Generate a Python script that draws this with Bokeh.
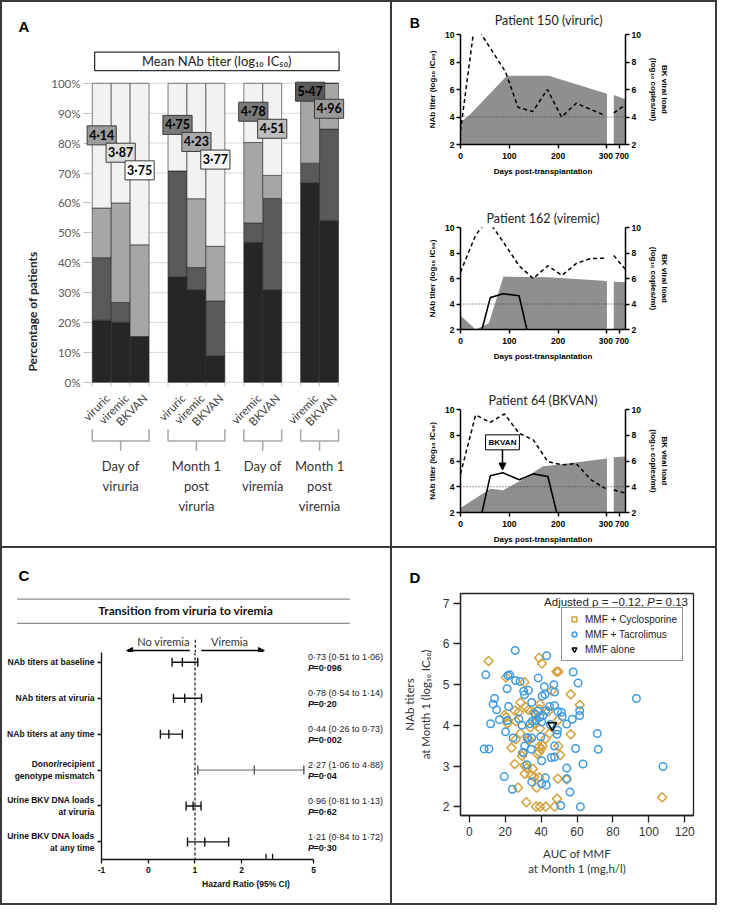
import math
from bokeh.plotting import figure
from bokeh.models import (ColumnDataSource, Range1d, FixedTicker, LinearAxis, Label, Arrow,
                          NormalHead, Span, Legend, LegendItem, PrintfTickFormatter)
from bokeh.layouts import row, column
from bokeh.core.properties import value
from bokeh.embed import file_html
from bokeh.resources import INLINE

# ====================== DATA ======================
# ---- Panel A : stacked percentages (bottom -> top) ----
a_bar_names = ["viruric", "viremic", "BKVAN", "viruric", "viremic", "BKVAN",
               "viremic", "BKVAN", "viremic", "BKVAN"]
a_groups = ["Day of\nviruria", "Month 1\npost\nviruria", "Day of\nviremia", "Month 1\npost\nviremia"]
a_group_sizes = [3, 3, 2, 2]
a_seg1 = [20.8, 20.1, 15.3, 35.3, 30.9, 8.9, 46.8, 30.9, 66.7, 54.0]
a_seg2 = [20.9, 6.6, 0.0, 35.4, 7.5, 18.3, 6.5, 30.6, 6.6, 30.7]
a_seg3 = [16.6, 33.3, 30.7, 0.0, 23.0, 18.3, 26.9, 7.7, 26.7, 15.3]
a_seg4 = [41.7, 40.0, 54.0, 29.3, 38.6, 54.5, 19.8, 30.8, 0.0, 0.0]
a_titer = [4.14, 3.87, 3.75, 4.75, 4.23, 3.77, 4.78, 4.51, 5.47, 4.96]
a_label_ypos = [82.6, 76.8, 70.9, 86.1, 80.4, 74.5, 90.5, 84.8, 97.2, 91.5]
a_label_fill = ["#9a9a9a", "#dedede", "#ffffff", "#7a7a7a", "#a8a8a8", "#f8f8f8",
                "#7a7a7a", "#bdbdbd", "#5a5a5a", "#9a9a9a"]
a_pct_ticks = [0, 10, 20, 30, 40, 50, 60, 70, 80, 90, 100]

# ---- Panel B : patient time courses ----
b_titles = ["Patient 150 (viruric)", "Patient 162 (viremic)", "Patient 64 (BKVAN)"]
b_area_days = [[0, 20, 95, 181, 300], [0, 31, 58, 88, 180, 300], [0, 61, 87, 120, 169, 199, 300]]
b_area_vals = [[3.6, 4.2, 7.0, 7.0, 5.7], [3.1, 2.0, 2.5, 6.15, 6.1, 5.8],
               [2.35, 3.85, 3.73, 4.4, 5.6, 5.7, 6.2]]
b_late_days = [650, 750]
b_area_late = [[5.6, 5.3], [5.75, 5.7], [6.3, 6.35]]
b_dash_days = [[0, 26, 35, 43, 92, 118, 148, 178, 207, 237, 297],
               [0, 31, 41, 54, 67, 94, 120, 149, 179, 208, 238, 265, 298],
               [0, 31, 61, 90, 120, 149, 179, 208, 237, 267, 297]]
b_dash_vals = [[3.0, 10.0, 10.6, 10.0, 7.3, 4.7, 4.4, 6.0, 4.0, 5.0, 4.1],
               [6.5, 9.4, 9.9, 10.4, 10.0, 8.5, 7.0, 6.0, 7.0, 6.25, 7.2, 7.55, 7.6],
               [5.0, 9.58, 9.0, 9.65, 8.15, 7.64, 5.95, 5.7, 5.8, 4.55, 3.85]]
b_dash_late = [[4.3, 4.9], [7.8, 6.7], [3.75, 3.5]]
b_solid_days = [[], [44, 61, 87, 120, 136], [44, 61, 87, 120, 149, 179, 197]]
b_solid_vals = [[], [2.0, 4.5, 4.8, 4.65, 2.0], [2.0, 4.85, 5.08, 4.55, 5.0, 4.8, 2.0]]
b_threshold = 4
b_bkvan_day = 86

# ---- Panel C : forest plot ----
c_labels = ["NAb titers at baseline", "NAb titers at viruria", "NAb titers at any time",
            "Donor/recipient\ngenotype mismatch", "Urine BKV DNA loads\nat viruria",
            "Urine BKV DNA loads\nat any time"]
c_hr = [0.73, 0.78, 0.44, 2.27, 0.96, 1.21]
c_lo = [0.51, 0.54, 0.26, 1.06, 0.81, 0.84]
c_hi = [1.06, 1.14, 0.73, 4.88, 1.13, 1.72]
c_p = ["0·096", "0·20", "0·002", "0·04", "0·62", "0·30"]
c_xticks = [-1, 0, 1, 2, 5]

# ---- Panel D : scatter ----
d_cyc_x = [10.8, 20.4, 30.8, 38.9, 40.5, 48.6, 49.6, 46.0, 56.5, 61.5, 28.5, 19.6, 20.5, 21.3,
           25.4, 27.6, 33.0, 35.7, 37.2, 39.4, 38.9, 43.9, 49.3, 56.5, 44.7, 28.5, 25.9, 23.5,
           32.6, 33.5, 39.4, 42.4, 39.0, 40.0, 40.8, 38.8, 29.8, 29.4, 49.6, 50.7, 25.3, 30.9,
           35.4, 30.9, 34.5, 36.2, 39.0, 27.2, 37.5, 49.3, 54.3, 31.8, 48.9, 37.2, 39.4, 42.6,
           47.5, 107.4, 34.0, 36.5, 31.5, 37.8, 32.0, 26.0]
d_cyc_y = [5.58, 5.18, 5.06, 5.66, 5.52, 5.32, 5.32, 4.85, 4.76, 4.50, 4.56, 4.25, 4.20, 4.05,
           4.36, 4.32, 4.38, 4.32, 4.26, 4.52, 4.40, 4.34, 4.12, 3.78, 3.80, 3.80, 3.66, 3.45,
           3.66, 3.64, 3.92, 3.67, 3.48, 3.42, 3.50, 3.34, 3.33, 3.25, 3.49, 3.27, 3.05, 3.01,
           2.93, 2.81, 2.77, 2.73, 2.72, 2.47, 2.47, 2.69, 2.67, 2.11, 2.20, 2.00, 2.00, 2.00,
           2.00, 2.23, 3.95, 4.05, 4.45, 3.30, 2.95, 4.10]
d_tac_x = [9.2, 14.1, 13.3, 15.3, 11.9, 16.8, 8.3, 11.0, 19.5, 24.0, 20.2, 21.1, 21.5, 22.5,
           21.9, 21.2, 24.4, 25.8, 25.6, 28.3, 27.6, 30.3, 30.8, 33.0, 29.4, 30.0, 30.9, 32.1,
           34.5, 33.9, 34.8, 36.6, 37.2, 38.1, 38.4, 43.1, 41.8, 40.6, 42.2, 39.4, 40.3, 41.1,
           44.7, 47.5, 47.1, 47.5, 49.3, 51.4, 51.8, 54.3, 57.4, 57.9, 60.6, 61.5, 61.5, 49.1,
           48.9, 47.5, 45.7, 47.5, 39.9, 34.8, 40.3, 42.4, 40.3, 42.9, 34.8, 59.2, 54.3, 54.3,
           56.1, 63.3, 51.0, 61.9, 71.3, 71.8, 93.1, 107.9, 45.1, 42.6, 35.2, 32.4]
d_tac_y = [5.24, 4.66, 4.52, 4.38, 4.04, 4.14, 3.42, 3.42, 2.74, 2.43, 3.84, 4.90, 5.22, 5.24,
           4.46, 4.12, 3.69, 5.10, 5.84, 5.08, 4.16, 4.84, 4.75, 4.86, 4.00, 3.33, 3.49, 3.03,
           3.41, 4.04, 4.56, 4.28, 4.12, 4.35, 5.16, 5.71, 4.95, 4.72, 4.76, 4.20, 4.08, 4.24,
           4.46, 4.48, 5.00, 4.82, 4.34, 4.32, 4.22, 4.03, 4.15, 5.31, 5.04, 4.36, 4.24, 3.88,
           3.78, 3.49, 3.21, 3.22, 3.72, 3.69, 3.13, 2.71, 2.57, 2.53, 2.61, 3.43, 2.95, 2.69,
           2.36, 3.05, 2.03, 2.00, 3.80, 3.41, 4.66, 2.99, 4.02, 4.36, 4.10, 3.70]
d_alone_x = [46.2]
d_alone_y = [4.00]
d_rho = -0.12
d_pval = 0.13
d_xticks = [0, 20, 40, 60, 80, 100, 120]
d_yticks = [2, 3, 4, 5, 6, 7]

# ====================== LAYOUT CONSTANTS ======================
GAP = 2
W_L, W_R = 388, 323
H_T, H_B = 544, 355
SXL, SXR = W_L / 400.0, W_R / 333.0
SYT, SYB = H_T / 557.0, H_B / 364.0
CAL = "Lato"
ARI = "Liberation Sans"
NAR = "Liberation Sans Narrow, Liberation Sans"
WHITE_BG = {"background-color": "white"}


def base_fig(w, h, xr, yr, l, r, t, b, title=None, **kw):
    p = figure(width=w, height=h, x_range=xr, y_range=yr, output_backend="svg",
               toolbar_location=None, title=title, min_border_left=l, min_border_right=r,
               min_border_top=t, min_border_bottom=b, styles=WHITE_BG, **kw)
    p.frame_align = False
    p.outline_line_color = None
    p.background_fill_color = "white"
    p.border_fill_color = "white"
    return p


def strip_fig(w, h, xr, yr):
    p = base_fig(w, h, xr, yr, 0, 0, 0, 0, x_axis_type=None, y_axis_type=None)
    p.xgrid.visible = False
    p.ygrid.visible = False
    return p


def letter(p, x, y, t, size="15px"):
    p.text(x=[x], y=[y], text=[t], text_font=value(ARI), text_font_style="bold",
           text_font_size=size, text_align="center", text_baseline="middle", text_color="black")


# ====================== PANEL A ======================
def a_pct(py):
    return (389.0 - py) / 3.06


def a_slot(px):
    return (px - 93.0) / 19.5 - 0.5


a_x, a_gc, a_ge = [], [], []
pos = 0
for gs in a_group_sizes:
    xs = list(range(pos, pos + gs))
    a_x += xs
    a_gc.append((xs[0] + xs[-1]) / 2.0)
    a_ge.append((xs[0] - 0.5, xs[-1] + 0.5))
    pos += gs + 1

A_SPLIT = 76
hA_top = round(A_SPLIT * SYT)
sA = strip_fig(W_L, hA_top, Range1d(a_slot(0), a_slot(400)), Range1d(a_pct(A_SPLIT), a_pct(0)))
letter(sA, a_slot(22), a_pct(25), "A")
sA.quad(left=[a_slot(95)], right=[a_slot(347)], top=[a_pct(51)], bottom=[a_pct(70)],
        fill_color="white", line_color="#333333", line_width=1.3)
sA.text(x=[(a_slot(95) + a_slot(347)) / 2], y=[a_pct(60.5)], text=["Mean NAb titer (log₁₀ IC₅₀)"],
        text_align="center", text_baseline="middle", text_font=value(CAL),
        text_font_size="13px", text_color="#222222")

pA = base_fig(W_L, H_T - hA_top, Range1d(a_slot(84), a_slot(400)),
              Range1d(a_pct(557), a_pct(A_SPLIT)), round(84 * SXL), 0, 0, 0, x_axis_type=None)
pA.xgrid.visible = False
pA.ygrid.visible = False
yax = pA.yaxis[0]
yax.ticker = FixedTicker(ticks=a_pct_ticks)
yax.formatter = PrintfTickFormatter(format="%d%%")
yax.axis_line_color = None
yax.major_tick_line_color = "#bfbfbf"
yax.major_tick_out = 0
yax.major_tick_in = 7
yax.minor_tick_line_color = None
yax.major_label_text_font = CAL
yax.major_label_text_font_size = "11.5px"
yax.major_label_text_color = "#595959"
yax.major_label_standoff = 3
yax.axis_label = "Percentage of patients"
yax.axis_label_text_font = CAL
yax.axis_label_text_font_style = "bold"
yax.axis_label_text_font_size = "12px"
yax.axis_label_text_color = "#222222"
yax.axis_label_standoff = 8

pA.segment(x0=[a_slot(91)] * len(a_pct_ticks), y0=a_pct_ticks,
           x1=[a_slot(346)] * len(a_pct_ticks), y1=a_pct_ticks,
           line_color="#d9d9d9", line_width=1)

srcA = ColumnDataSource(dict(x=a_x, s1=a_seg1, s2=a_seg2, s3=a_seg3, s4=a_seg4))
pA.vbar_stack(["s1", "s2", "s3", "s4"], x="x", width=1.0, source=srcA,
              fill_color=["#262626", "#595959", "#a6a6a6", "#f2f2f2"],
              line_color="#2a2a2a", line_width=0.6)

edges = sorted(set([xi - 0.5 for xi in a_x] + [xi + 0.5 for xi in a_x]))
pA.segment(x0=edges, y0=[0] * len(edges), x1=edges, y1=[a_pct(393)] * len(edges),
           line_color="#bfbfbf", line_width=1)

for xi, t, ly, fc in zip(a_x, a_titer, a_label_ypos, a_label_fill):
    pA.add_layout(Label(x=xi, y=ly, text=f"{t:.2f}".replace(".", "·"), text_align="center",
                        text_baseline="middle", text_font=CAL, text_font_style="bold",
                        text_font_size="12.5px", text_color="black",
                        background_fill_color=fc, border_line_color="#3a3a3a",
                        border_line_width=1, padding=2))

pA.text(x=[xi + 0.3 for xi in a_x], y=[a_pct(403)] * len(a_x), text=a_bar_names,
        angle=math.pi / 4, text_align="right", text_baseline="middle",
        text_font=value(CAL), text_font_size="11.5px", text_color="#404040")

br_xs, br_ys = [], []
for (l, r), c in zip(a_ge, a_gc):
    br_xs.append([l, l, r, r])
    br_ys.append([a_pct(437), a_pct(449), a_pct(449), a_pct(437)])
    br_xs.append([c, c])
    br_ys.append([a_pct(449), a_pct(459)])
pA.multi_line(br_xs, br_ys, line_color="#a6a6a6", line_width=1.5)
pA.text(x=a_gc, y=[a_pct(466)] * len(a_gc), text=a_groups, text_align="center",
        text_baseline="top", text_font=value(CAL), text_font_size="13px",
        text_color="#333333", text_line_height=1.25)

colA = column(sA, pA, spacing=0)


# ====================== PANEL B ======================
def bx(d):
    return d if d <= 300 else 314 + (d - 650) * 0.24


def style_b_axis(ax, ticks):
    ax.ticker = FixedTicker(ticks=ticks)
    ax.axis_line_color = "black"
    ax.axis_line_width = 1.5
    ax.major_tick_line_color = "black"
    ax.major_tick_line_width = 1.5
    ax.major_tick_out = 4
    ax.major_tick_in = 0
    ax.minor_tick_line_color = None
    ax.major_label_text_font = ARI
    ax.major_label_text_font_style = "bold"
    ax.major_label_text_font_size = "8.5px"
    ax.major_label_text_color = "black"
    ax.major_label_standoff = 2
    ax.axis_label_text_font = ARI
    ax.axis_label_text_font_style = "bold"
    ax.axis_label_text_font_size = "8px"
    ax.axis_label_text_color = "black"
    ax.axis_label_standoff = 5


B_SPLIT = 27.5
hB_top = round(B_SPLIT * SYT)
sB = strip_fig(W_R, hB_top, Range1d(0, W_R), Range1d(hB_top, 0))
letter(sB, 23 * SXR, 20, "B", size="14px")
sB.text(x=[(561 - 400) * SXR], y=[18 * SYT], text=[b_titles[0]], text_align="center",
        text_baseline="middle", text_font=value(CAL), text_font_size="12.5px",
        text_color="#222222")

b_ref_regions = [(B_SPLIT, 180), (180, 370), (370, 557)]
b_ref_frames = [(33, 146), (230, 344), (417, 532)]
b_figs = [sB]
tick700 = int(round(bx(700)))
for k in range(3):
    y0 = round(b_ref_regions[k][0] * SYT)
    y1 = H_T if k == 2 else round(b_ref_regions[k][1] * SYT)
    h = y1 - y0
    top = round(b_ref_frames[k][0] * SYT) - y0
    bot = y1 - round(b_ref_frames[k][1] * SYT)
    p = base_fig(W_R, h, Range1d(0, 338), Range1d(2, 10), round(70 * SXR),
                 W_R - round(240 * SXR), top, bot, title=(b_titles[k] if k > 0 else None))
    p.xgrid.visible = False
    p.ygrid.visible = False
    if k > 0:
        p.title.align = "center"
        p.title.text_font = CAL
        p.title.text_font_style = "normal"
        p.title.text_font_size = "12.5px"
        p.title.text_color = "#222222"
        p.title.standoff = 4
        p.title.offset = 5

    p.varea(x=[bx(d) for d in b_area_days[k]], y1=0, y2=b_area_vals[k], fill_color="#8f8f8f")
    p.varea(x=[bx(d) for d in b_late_days], y1=0, y2=b_area_late[k], fill_color="#8f8f8f")
    p.add_layout(Span(location=b_threshold, dimension="width", line_color="#333333",
                      line_dash="1 2", line_width=1))
    p.line([bx(d) for d in b_dash_days[k]], b_dash_vals[k], line_color="black",
           line_width=1.5, line_dash="4 3")
    p.line([bx(d) for d in b_late_days], b_dash_late[k], line_color="black",
           line_width=1.5, line_dash="4 3")
    if b_solid_days[k]:
        p.line([bx(d) for d in b_solid_days[k]], b_solid_vals[k], line_color="black",
               line_width=1.6)

    style_b_axis(p.yaxis[0], [2, 4, 6, 8, 10])
    p.yaxis[0].axis_label = "NAb titer (log₁₀ IC₅₀)"
    ra = LinearAxis(axis_label="BK viral load\n(log₁₀ copies/ml)")
    style_b_axis(ra, [2, 4, 6, 8, 10])
    p.add_layout(ra, "right")
    xa = p.xaxis[0]
    style_b_axis(xa, [0, 100, 200, 300, tick700])
    xa.major_label_overrides = {300: "300\u00a0", tick700: "\u00a0\u00a0700"}
    xa.axis_label = "Days post-transplantation"
    xa.axis_label_standoff = 3
    b_figs.append(p)

p3 = b_figs[3]
p3.add_layout(Arrow(end=NormalHead(size=7, fill_color="black", line_color="black"),
                    x_start=b_bkvan_day, y_start=7.0, x_end=b_bkvan_day, y_end=5.3,
                    line_color="black", line_width=1.5))
p3.add_layout(Label(x=b_bkvan_day, y=7.45, text="BKVAN", text_align="center",
                    text_baseline="middle", text_font=ARI, text_font_style="bold",
                    text_font_size="8px", text_color="black", background_fill_color="white",
                    border_line_color="black", border_line_width=1, padding=3))
colB = column(*b_figs, spacing=0)


# ====================== PANEL C ======================
def hx(v):
    return v if v <= 2.5 else 2.66 + (v - 4.5) * 1.76


def c_x(px):
    return (px - 150.7) / 48.1


def c_row(py):
    return (py - 674.0) / 36.8


C_SPLIT = 664
hC_top = round((C_SPLIT - 557) * SYB)
sC = strip_fig(W_L, hC_top, Range1d(c_x(0), c_x(400)), Range1d(c_row(C_SPLIT), c_row(557)))
letter(sC, c_x(22), c_row(585), "C")
for ry in (609, 634):
    sC.segment(x0=[c_x(15)], y0=[c_row(ry)], x1=[c_x(358)], y1=[c_row(ry)],
               line_color="#8c8c8c", line_width=1.2)
sC.text(x=[c_x(189)], y=[c_row(621)], text=["Transition from viruria to viremia"],
        text_align="center", text_baseline="middle", text_font=value(CAL),
        text_font_style="bold", text_font_size="12px", text_color="#111111")
sC.text(x=[c_x(166), c_x(234)], y=[c_row(653)] * 2, text=["No viremia", "Viremia"],
        text_align="center", text_baseline="middle", text_font=value(CAL),
        text_font_size="11px", text_color="#333333")
sC.add_layout(Arrow(end=NormalHead(size=6, fill_color="black", line_color="black"),
                    x_start=c_x(193), y_start=c_row(662), x_end=c_x(128), y_end=c_row(662),
                    line_color="black", line_width=1.5))
sC.add_layout(Arrow(end=NormalHead(size=6, fill_color="black", line_color="black"),
                    x_start=c_x(205), y_start=c_row(662), x_end=c_x(270), y_end=c_row(662),
                    line_color="black", line_width=1.5))
sC.segment(x0=[1], y0=[c_row(651)], x1=[1], y1=[c_row(C_SPLIT)], line_color="#111111",
           line_width=1.2, line_dash="3 2")

pC = base_fig(W_L, H_B - hC_top, Range1d(-1, c_x(400)), Range1d(c_row(876), c_row(C_SPLIT)),
              round(102 * SXL), 0, 0, H_B - hC_top - round((876 - C_SPLIT) * SYB))
pC.xgrid.visible = False
pC.ygrid.visible = False
rows = list(range(len(c_labels)))
cy = pC.yaxis[0]
cy.ticker = FixedTicker(ticks=rows)
cy.major_label_overrides = {i: lab for i, lab in zip(rows, c_labels)}
cx = pC.xaxis[0]
x5 = hx(5)
cx.ticker = FixedTicker(ticks=[hx(v) for v in c_xticks])
cx.major_label_overrides = {hx(v): str(v) for v in c_xticks}
cx.bounds = (-1, x5)
for ax in (cx, cy):
    ax.axis_line_color = "#111111"
    ax.axis_line_width = 1.3
    ax.major_tick_line_color = "#111111"
    ax.major_tick_line_width = 1.3
    ax.major_tick_out = 4
    ax.major_tick_in = 0
    ax.minor_tick_line_color = None
    ax.major_label_text_font = NAR
    ax.major_label_text_font_style = "bold"
    ax.major_label_text_font_size = "8.5px"
    ax.major_label_text_color = "#111111"
    ax.major_label_standoff = 3
cx.axis_label = "Hazard Ratio (95% CI)"
cx.axis_label_text_font = ARI
cx.axis_label_text_font_style = "bold"
cx.axis_label_text_font_size = "8.5px"
cx.axis_label_text_color = "#111111"
cx.axis_label_standoff = 3

pC.segment(x0=[2.52, 2.66], y0=[c_row(876)] * 2, x1=[2.52, 2.66], y1=[c_row(870)] * 2,
           line_color="#111111", line_width=1.3)
pC.segment(x0=[1], y0=[c_row(C_SPLIT)], x1=[1], y1=[c_row(876)], line_color="#111111",
           line_width=1.2, line_dash="3 2")
c_lw = [1.4, 1.4, 1.4, 0.9, 1.4, 1.4]
c_col = ["#111111", "#111111", "#111111", "#555555", "#111111", "#111111"]
pC.segment(x0=[hx(v) for v in c_lo], y0=rows, x1=[hx(v) for v in c_hi], y1=rows,
           line_color=c_col, line_width=c_lw)
pC.scatter(x=[hx(v) for v in c_lo + c_hi + c_hr], y=rows * 3, marker="dash", angle=math.pi / 2,
           size=9, line_color=c_col * 3, line_width=1.4)

fmt = lambda v: f"{v:.2f}".replace(".", "·")
tx = c_x(315)
pC.text(x=[tx] * len(rows), y=[r - 0.14 for r in rows],
        text=[f"{fmt(h)} ({fmt(l)} to {fmt(u)})" for h, l, u in zip(c_hr, c_lo, c_hi)],
        text_baseline="middle", text_font=value(NAR), text_font_size="9px", text_color="#222222")
pC.text(x=[tx] * len(rows), y=[r + 0.17 for r in rows], text=["P"] * len(rows),
        text_baseline="middle", text_font=value(NAR), text_font_size="9px",
        text_font_style="bold italic", text_color="#111111")
pC.text(x=[tx + 0.12] * len(rows), y=[r + 0.17 for r in rows], text=["=" + s for s in c_p],
        text_baseline="middle", text_font=value(NAR), text_font_size="9px",
        text_font_style="bold", text_color="#111111")
colC = column(sC, pC, spacing=0)


# ====================== PANEL D ======================
def d_x(px):
    return (px - 479.0) / 1.85


def d_y(py):
    return 7 - (py - 613.0) / 41.8


hD_top = round(40 * SYB)
sD = strip_fig(W_R, hD_top, Range1d(0, W_R), Range1d(hD_top, 0))
letter(sD, 23 * SXR, 29, "D")

pD = base_fig(W_R, H_B - hD_top, Range1d(d_x(470), d_x(710)), Range1d(d_y(831), d_y(603)),
              round(70 * SXR), W_R - round(310 * SXR), round(46 * SYB) - hD_top,
              H_B - round(274 * SYB))
pD.xgrid.visible = False
pD.ygrid.visible = False
pD.outline_line_color = "#222222"
pD.outline_line_width = 1.3
pD.xaxis[0].ticker = FixedTicker(ticks=d_xticks)
pD.yaxis[0].ticker = FixedTicker(ticks=d_yticks)
for ax in (pD.xaxis[0], pD.yaxis[0]):
    ax.axis_line_color = "#222222"
    ax.axis_line_width = 1.3
    ax.major_tick_line_color = "#222222"
    ax.major_tick_line_width = 1.3
    ax.major_tick_out = 7
    ax.major_tick_in = 0
    ax.minor_tick_line_color = None
    ax.major_label_text_font = ARI
    ax.major_label_text_font_size = "12px"
    ax.major_label_text_color = "#333333"
    ax.major_label_standoff = 4
    ax.axis_label_text_font = CAL
    ax.axis_label_text_font_style = "normal"
    ax.axis_label_text_font_size = "11.5px"
    ax.axis_label_text_color = "#333333"
    ax.axis_label_standoff = 8
pD.xaxis[0].axis_label = "AUC of MMF\nat Month 1 (mg,h/l)"
pD.yaxis[0].axis_label = "NAb titers\nat Month 1 (log₁₀ IC₅₀)"

ORANGE = "#D6A13B"
BLUE = "#3E9BDF"
r_cyc = pD.scatter(d_cyc_x, d_cyc_y, marker="square", angle=math.pi / 4, size=6.5,
                   fill_color=None, line_color=ORANGE, line_width=1.5)
r_tac = pD.scatter(d_tac_x, d_tac_y, marker="circle", size=7.5, fill_color=None,
                   line_color=BLUE, line_width=1.5)
r_alone = pD.scatter(d_alone_x, d_alone_y, marker="inverted_triangle", size=9, fill_color=None,
                     line_color="black", line_width=1.5)
leg = Legend(items=[LegendItem(label="MMF + Cyclosporine", renderers=[r_cyc]),
                    LegendItem(label="MMF + Tacrolimus", renderers=[r_tac]),
                    LegendItem(label="MMF alone", renderers=[r_alone])],
             location=(round(104 * SXR), round(158 * SYB)))
leg.border_line_color = "#222222"
leg.border_line_width = 1.3
leg.label_text_font = ARI
leg.label_text_font_size = "10px"
leg.label_text_color = "#222222"
leg.label_height = 12
leg.glyph_height = 12
leg.glyph_width = 14
leg.spacing = 3
leg.padding = 5
leg.margin = 0
leg.label_standoff = 4
leg.background_fill_color = "white"
pD.add_layout(leg)

D_FS = "11.5px"
pD.text(x=[d_x(659)], y=[d_y(612)], text=[f"Adjusted ρ = −{abs(d_rho):.2f},"],
        text_align="right", text_baseline="middle", text_font=value(ARI),
        text_font_size=D_FS, text_color="#222222")
pD.text(x=[d_x(662)], y=[d_y(612)], text=["P"], text_align="left", text_baseline="middle",
        text_font=value(ARI), text_font_style="italic", text_font_size=D_FS,
        text_color="#222222")
pD.text(x=[d_x(671)], y=[d_y(612)], text=[f"= {d_pval:.2f}"], text_align="left",
        text_baseline="middle", text_font=value(ARI), text_font_size=D_FS,
        text_color="#222222")
colD = column(sD, pD, spacing=0)

# ====================== ASSEMBLE ======================
top_row = row(colA, colB, spacing=GAP)
bot_row = row(colC, colD, spacing=GAP)
root = column(top_row, bot_row, spacing=GAP,
              styles={"background-color": "#3a3a3a", "padding": "2px"})

open("out.html", "w").write(file_html(root, INLINE))
